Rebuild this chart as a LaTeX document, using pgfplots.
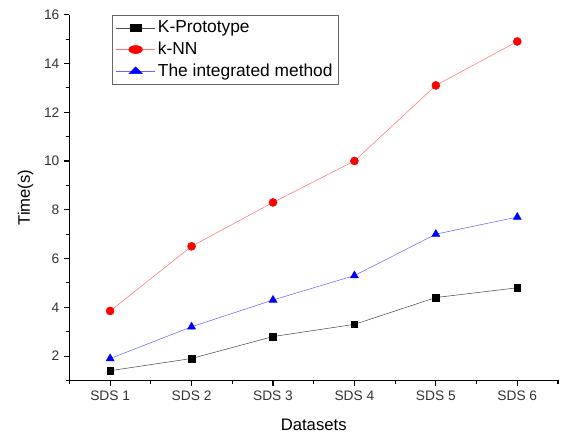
\documentclass[border=0pt]{standalone}
\usepackage{fontspec}
\setmainfont{Liberation Sans}
\usepackage{pgfplots}
\pgfplotsset{compat=1.18}
\begin{document}
\begin{tikzpicture}
\begin{axis}[
  name=main,
  scale only axis,
  width=366pt, height=274pt,
  xmin=0.5, xmax=6.5,
  ymin=1, ymax=16,
  axis lines=left,
  axis line style={-, line width=0.8pt},
  tick align=outside,
  tick style={black, line width=0.8pt},
  major tick length=4pt,
  minor tick length=2.5pt,
  xtick={1,2,3,4,5,6},
  xticklabels={SDS 1,SDS 2,SDS 3,SDS 4,SDS 5,SDS 6},
  minor xtick={0.5,1.5,2.5,3.5,4.5,5.5,6.5},
  ytick={2,4,6,8,10,12,14,16},
  minor ytick={1,3,5,7,9,11,13,15},
  ticklabel style={font=\fontsize{10.3}{11}\selectfont, text=black!80},
  /pgf/number format/assume math mode=true,
  xlabel={Datasets},
  ylabel={Time(s)},
  every axis x label/.style={at={(axis description cs:0.5,-0.12)}, anchor=center,
    font=\fontsize{12.5}{14}\selectfont},
  every axis y label/.style={at={(axis description cs:-0.09,0.5)}, rotate=90, anchor=center,
    font=\fontsize{12.5}{14}\selectfont},
  legend style={at={(0.088,1)}, anchor=north west, draw=black!60,
    font=\fontsize{13}{14}\selectfont, row sep=1.5pt, inner sep=2.5pt},
  legend cell align=left,
  legend image post style={xscale=1.7},
  clip=false,
]
\addplot[black!70, mark=square*, mark size=2.5pt, mark options={black}]
  coordinates {(1,1.4)(2,1.9)(3,2.8)(4,3.3)(5,4.4)(6,4.8)};
\addlegendentry{K-Prototype}
\addplot[red!55, mark=*, mark size=3pt, mark options={red, fill=red}]
  coordinates {(1,3.85)(2,6.5)(3,8.3)(4,10.0)(5,13.1)(6,14.9)};
\addlegendentry{k-NN}
\addplot[blue!60, mark=triangle*, mark size=3.4pt, mark options={blue, fill=blue}]
  coordinates {(1,1.9)(2,3.2)(3,4.3)(4,5.3)(5,7.0)(6,7.7)};
\addlegendentry{The integrated method}
\end{axis}
\pgfresetboundingbox
\path[use as bounding box] ([xshift=-52pt,yshift=-40pt]main.south west) rectangle ([xshift=4.5pt,yshift=11pt]main.north east);
\end{tikzpicture}
\end{document}
